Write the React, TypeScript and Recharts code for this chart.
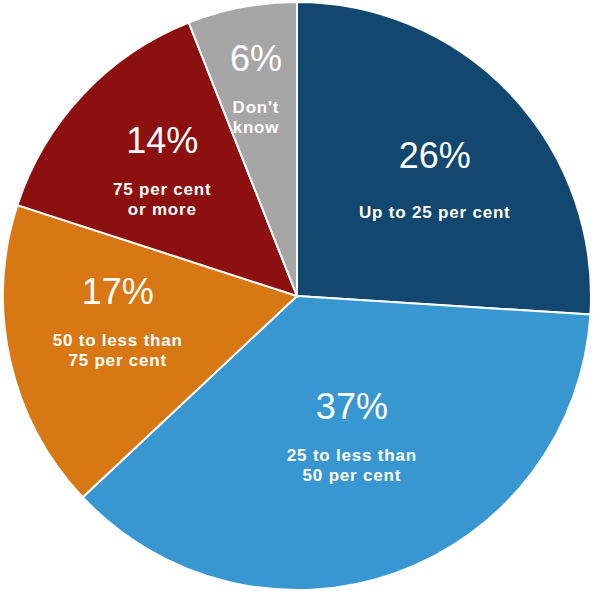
import { PieChart, Pie, Cell } from "recharts";

const categories = ["Up to 25 per cent", "25 to less than 50 per cent", "50 to less than 75 per cent", "75 per cent or more", "Don't know"];
const categoryLines = [
    ["Up to 25 per cent"],
    ["25 to less than", "50 per cent"],
    ["50 to less than", "75 per cent"],
    ["75 per cent", "or more"],
    ["Don't", "know"],
];
const shares = [26, 37, 17, 14, 6];

const colors = ["#12476f", "#3897d0", "#d87814", "#8c1010", "#a6a6a6"];
// where each percent label sits: share of the radius and a turn away from the slice middle (degrees)
const labelRadius = [0.67, 0.42, 0.61, 0.7, 0.82];
const labelTurn = [2.4, 6.6, -13.9, -5.9, -1];

const data = categories.map((name, i) => ({ name, value: shares[i] }));

const RAD = Math.PI / 180;

const renderLabel = (props: any) => {
    const { cx, cy, midAngle, outerRadius, index, value } = props;
    const r = outerRadius * labelRadius[index];
    const a = midAngle + labelTurn[index];
    const x = cx + r * Math.cos(-a * RAD);
    const y = cy + r * Math.sin(-a * RAD);
    const lines: string[] = categoryLines[index];
    const first = lines.length > 1 ? 49 : 57;
    return (
        <g>
            <text x={x} y={y} fill="#fff" textAnchor="middle" dominantBaseline="central"
                fontFamily="Liberation Sans, Arial, sans-serif" fontSize={36}>
                {value}%
            </text>
            {lines.map((line, j) => (
                <text key={j} x={x} y={y + first + j * 20} fill="#fff" textAnchor="middle" dominantBaseline="central"
                    fontFamily="Liberation Sans, Arial, sans-serif" fontSize={17} fontWeight="bold" letterSpacing={0.8}>
                    {line}
                </text>
            ))}
        </g>
    );
};

export default function App() {
    return (
        <div style={{ position: "absolute", left: 0, top: 0, width: 593, height: 591, background: "#fff" }}>
            <PieChart width={593} height={591} margin={{ top: 0, right: 0, bottom: 0, left: 0 }}>
                <Pie
                    data={data}
                    dataKey="value"
                    cx={297}
                    cy={296}
                    outerRadius={294}
                    startAngle={90}
                    endAngle={-270}
                    stroke="#fff"
                    strokeWidth={2}
                    label={renderLabel}
                    labelLine={false}
                    isAnimationActive={false}
                >
                    {data.map((d, i) => (
                        <Cell key={d.name} fill={colors[i]} />
                    ))}
                </Pie>
            </PieChart>
        </div>
    );
}
